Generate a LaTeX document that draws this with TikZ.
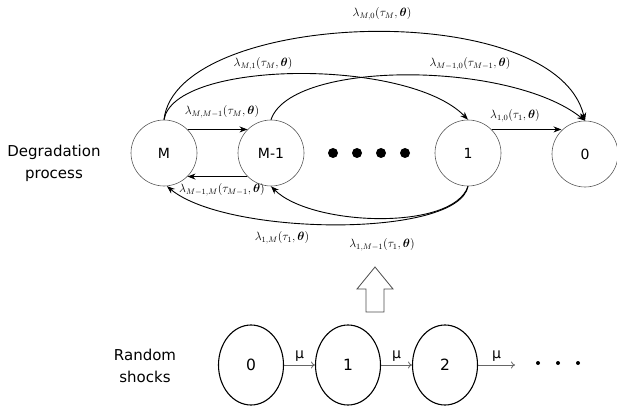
\documentclass[tikz,border=0pt]{standalone}
\usepackage{amsmath}
\usepackage{bm}
\usepackage[no-math]{fontspec}
\setmainfont{DejaVu Sans}
\usepackage{tikz}
\usetikzlibrary{shapes.geometric,arrows.meta}
\tikzset{
	every deg/.style={
		circle,
		draw=black!65,
		line width=0.6pt,
		minimum size=66pt,
		inner sep=0pt,
		font=\fontsize{14}{16}\selectfont
	},
	every shock/.style={
		ellipse,
		draw,
		line width=1.1pt,
		minimum width=65pt,
		minimum height=80pt,
		inner sep=0pt,
		font=\fontsize{15.5}{18}\selectfont
	},
	rate/.style={font=\fontsize{12}{14}\selectfont},
	trans/.style={->, line width=0.9pt},
	shockarrow/.style={-{To[length=4pt,width=7pt]}, draw=black!60, line width=0.8pt},
}

\begin{document}
\begin{tikzpicture}[x=1pt, y=1pt, >={Stealth[length=8pt,width=6pt]}]
\useasboundingbox (0,0) rectangle (617,410);

% degradation states
\foreach \m/\l/\x/\y in {M/M/164/257, Mm/M-1/271/257, 1/1/468/257, 0/0/585/256}
	\node [every deg] (deg-\m) at (\x,\y) {\l};

\foreach \x in {333,357,381,405}
	\fill (\x,257) circle (5pt);

% neighbour transitions
\draw [trans] (deg-M.45) -- (deg-Mm.135);
\draw [trans] (deg-Mm.-135) -- (deg-M.-45);
\draw [trans] (deg-1.45) -- (deg-1.45 -| deg-0.135);

% jumps over the top
\draw [trans] (deg-M.north) .. controls +(12,110) and +(-30,125) .. (deg-0.north);
\draw [trans] (deg-M.north) .. controls +(10,60) and +(-60,62) .. (deg-1.north);
\draw [trans] (deg-Mm.north) .. controls +(20,60) and +(-75,60) .. (deg-0.north);

% jumps back underneath
\draw [trans] (deg-1.south) .. controls +(-10,-52) and +(60,-50) .. (deg-M.-85);
\draw [trans] (deg-1.south) .. controls +(-15,-45) and +(40,-40) .. (deg-Mm.south);

% rates
\node [rate] (r-M0) at (382,396) {$\lambda_{M,0}(\tau_M,\bm{\theta})$};
\node [rate] (r-M1) at (263,346) {$\lambda_{M,1}(\tau_M,\bm{\theta})$};
\node [rate] (r-Mm0) at (470,346) {$\lambda_{M-1,0}(\tau_{M-1},\bm{\theta})$};
\node [rate] (r-MMm) at (222,298) {$\lambda_{M,M-1}(\tau_M,\bm{\theta})$};
\node [rate] (r-MmM) at (222,220) {$\lambda_{M-1,M}(\tau_{M-1},\bm{\theta})$};
\node [rate] (r-10) at (515,294) {$\lambda_{1,0}(\tau_1,\bm{\theta})$};
\node [rate] (r-1M) at (282,172) {$\lambda_{1,M}(\tau_1,\bm{\theta})$};
\node [rate] (r-1Mm) at (382,165) {$\lambda_{1,M-1}(\tau_1,\bm{\theta})$};

\node [align=center, font=\fontsize{15}{22}\selectfont] (deg-text) at (54,247) {Degradation\\process};

% shocks feed the degradation
\draw [line width=0.8pt, draw=black!70] (366,98) -- (366,121) -- (357,121) -- (375,143)
	-- (393,121) -- (384,121) -- (384,98) -- cycle;

% random shocks
\foreach \x [count=\i from 0] in {251,348,445}
	\node [every shock] (shock-\i) at (\x,45) {\i};

\coordinate (shock-end) at (515,45);

\foreach \a/\b in {0/1, 1/2}
	\draw [shockarrow] (shock-\a) -- (shock-\b)
		node [above, midway, font=\fontsize{14}{16}\selectfont] {μ};
\draw [shockarrow] (shock-2) -- (shock-end)
	node [above, midway, font=\fontsize{14}{16}\selectfont] {μ};

\foreach \x in {538,558,578}
	\fill (\x,47) circle (2pt);

\node [align=center, font=\fontsize{15}{22}\selectfont] (shock-text) at (145,44) {Random\\shocks};

\end{tikzpicture}
\end{document}
